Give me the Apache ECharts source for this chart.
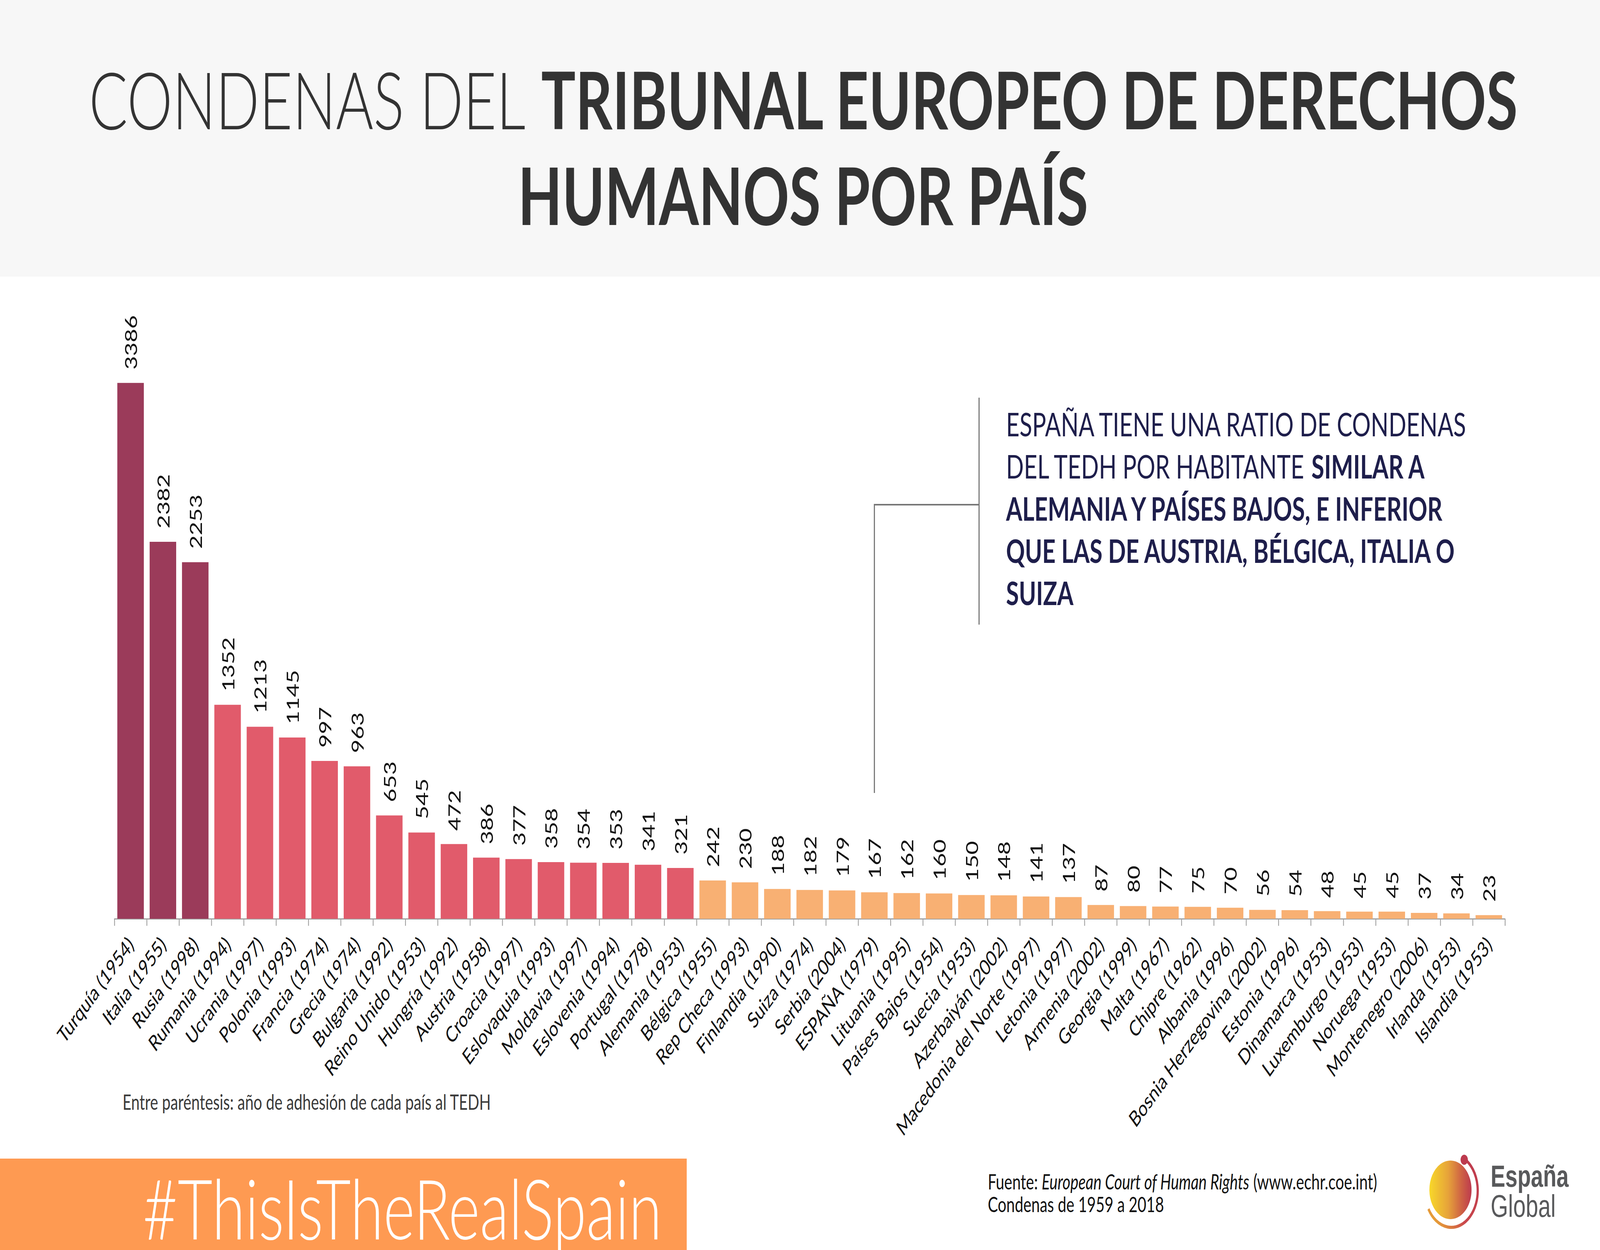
<!DOCTYPE html>
<html>
<head>
<meta charset="utf-8">
<script src="https://cdn.jsdelivr.net/npm/echarts@6/dist/echarts.min.js"></script>
<style>
html,body{margin:0;padding:0;background:#ffffff;overflow:hidden;}
#chart{width:5692px;height:3200px;transform-origin:0 0;}
</style>
</head>
<body>
<div id="chart"></div>
<script>
const categories = [
  'Turquía (1954)','Italia (1955)','Rusia (1998)','Rumania (1994)','Ucrania (1997)',
  'Polonia (1993)','Francia (1974)','Grecia (1974)','Bulgaria (1992)','Reino Unido (1953)',
  'Hungría (1992)','Austria (1958)','Croacia (1997)','Eslovaquia (1993)','Moldavia (1997)',
  'Eslovenia (1994)','Portugal (1978)','Alemania (1953)','Bélgica (1955)','Rep Checa (1993)',
  'Finlandia (1990)','Suiza (1974)','Serbia (2004)','ESPAÑA (1979)','Lituania (1995)',
  'Países Bajos (1954)','Suecia (1953)','Azerbaiyán (2002)','Macedonia del Norte (1997)','Letonia (1997)',
  'Armenia (2002)','Georgia (1999)','Malta (1967)','Chipre (1962)','Albania (1996)',
  'Bosnia Herzegovina (2002)','Estonia (1996)','Dinamarca (1953)','Luxemburgo (1953)','Noruega (1953)',
  'Montenegro (2006)','Irlanda (1953)','Islandia (1953)'
];
const condenas = [
  3386, 2382, 2253, 1352, 1213,
  1145, 997, 963, 653, 545,
  472, 386, 377, 358, 354,
  353, 341, 321, 242, 230,
  188, 182, 179, 167, 162,
  160, 150, 148, 141, 137,
  87, 80, 77, 75, 70,
  56, 54, 48, 45, 45,
  37, 34, 23
];
const highlightCategory = 'ESPAÑA (1979)';

const titleLine1 = ['CONDENAS DEL ', 'TRIBUNAL EUROPEO DE DERECHOS'];
const titleLine2 = 'HUMANOS POR PAÍS';
const noteText = 'Entre paréntesis: año de adhesión de cada país al TEDH';
const hashtag = '#ThisIsTheRealSpain';

const COL_TOP = '#9b3b5a', COL_MID = '#e15b6b', COL_LOW = '#f8b073';
function barColor(v){ return v >= 2000 ? COL_TOP : (v >= 300 ? COL_MID : COL_LOW); }

// the page is designed at 5692x3200 and fitted to the actual viewport
const el = document.getElementById('chart');
el.style.transform = 'scale(' + (window.innerWidth / 5692) + ',' + (window.innerHeight / 3200) + ')';

const chart = echarts.init(el, null, { renderer: 'svg', width: 5692, height: 3200 });

const FONT = 'Lato';
const NAVY = '#1e1e4b';

function buildGraphic(px) {
  return [
    { type: 'rect', id: 'hdr', left: 0, top: 0, z: -10, shape: { width: 5692, height: 708 }, style: { fill: '#f7f7f7' }, silent: true },
    {
      type: 'text', id: 't1', x: 2858, y: 252, z: 10,
      style: {
        text: '{l|' + titleLine1[0] + '}{b|' + titleLine1[1] + '}',
        align: 'center', verticalAlign: 'middle',
        rich: {
          l: { fontFamily: FONT, fontWeight: 300, fontSize: 204, fill: '#333333' },
          b: { fontFamily: FONT, fontWeight: 'bold', fontSize: 204, fill: '#333333' }
        }
      }
    },
    {
      type: 'text', id: 't2', x: 2857, y: 497, z: 10,
      style: { text: titleLine2, align: 'center', verticalAlign: 'middle',
        fontFamily: FONT, fontWeight: 'bold', fontSize: 204, fill: '#333333' }
    },
    {
      type: 'text', id: 'ann', x: 3579, y: 1031, z: 10,
      style: {
        text: '{r|ESPAÑA TIENE UNA RATIO DE CONDENAS}\n{r|DEL TEDH POR HABITANTE }{b|SIMILAR A}\n{b|ALEMANIA Y PAÍSES BAJOS, E INFERIOR}\n{b|QUE LAS DE AUSTRIA, BÉLGICA, ITALIA O}\n{b|SUIZA}',
        align: 'left', verticalAlign: 'top',
        rich: {
          r: { fontFamily: FONT, fontWeight: 'normal', fontSize: 83, lineHeight: 108, fill: NAVY },
          b: { fontFamily: FONT, fontWeight: 'bold', fontSize: 83, lineHeight: 108, fill: NAVY }
        }
      }
    },
    { type: 'line', id: 'l1', z: 5, shape: { x1: 3483, y1: 1018, x2: 3483, y2: 1599 }, style: { stroke: '#777777', lineWidth: 4 } },
    { type: 'line', id: 'l2', z: 5, shape: { x1: 3483, y1: 1292, x2: px, y2: 1292 }, style: { stroke: '#777777', lineWidth: 4 } },
    { type: 'line', id: 'l3', z: 5, shape: { x1: px, y1: 1290, x2: px, y2: 2030 }, style: { stroke: '#777777', lineWidth: 4 } },
    {
      type: 'text', id: 'note', x: 436, y: 2820, z: 10,
      style: { text: noteText, align: 'left', verticalAlign: 'middle', fontFamily: FONT, fontSize: 54, fill: '#3a3a3a' }
    },
    { type: 'rect', id: 'band', left: 0, top: 2966, z: 1, shape: { width: 2443, height: 240 }, style: { fill: '#fe9a52' } },
    {
      type: 'text', id: 'hash', x: 508, y: 3090, z: 10,
      style: { text: hashtag, align: 'left', verticalAlign: 'middle', fontFamily: FONT, fontWeight: 300, fontSize: 214, lineHeight: 180, fill: '#ffffff' }
    },
    {
      type: 'text', id: 'src', x: 3514, y: 2995, z: 10,
      style: {
        text: '{r|Fuente: }{i|European Court of Human Rights}{r| (www.echr.coe.int)}\n{r|Condenas de 1959 a 2018}',
        align: 'left', verticalAlign: 'top',
        rich: {
          r: { fontFamily: FONT, fontSize: 54, lineHeight: 58, fill: '#111111' },
          i: { fontFamily: FONT, fontStyle: 'italic', fontSize: 54, lineHeight: 58, fill: '#111111' }
        }
      }
    },
    {
      type: 'circle', id: 'globe', z: 10, shape: { cx: 5160, cy: 3046, r: 75 },
      style: { fill: new echarts.graphic.LinearGradient(0, 0, 1, 0, [
        { offset: 0, color: '#f8d82a' }, { offset: 0.45, color: '#e6a23a' },
        { offset: 0.75, color: '#cf6444' }, { offset: 1, color: '#bd3a4e' }]) }
    },
    {
      type: 'arc', id: 'ring', z: 10,
      shape: { cx: 5163, cy: 3048, r: 94, startAngle: -60 * Math.PI / 180, endAngle: 150 * Math.PI / 180, clockwise: true },
      style: { fill: 'none', lineWidth: 8, stroke: new echarts.graphic.LinearGradient(1, 0, 0, 1, [
        { offset: 0, color: '#bd3a4e' }, { offset: 0.6, color: '#c9474c' }, { offset: 1, color: '#f2c030' }]) }
    },
    { type: 'circle', id: 'dot', z: 11, shape: { cx: 5209, cy: 2969, r: 13 }, style: { fill: '#bd3a4e' } },
    {
      type: 'text', id: 'lg1', x: 5303, y: 3010, z: 10,
      style: { text: 'España', align: 'left', verticalAlign: 'middle', fontFamily: 'Liberation Sans', fontWeight: 'bold', fontSize: 78, lineHeight: 72, fill: '#58595b' }
    },
    {
      type: 'text', id: 'lg2', x: 5303, y: 3087, z: 10,
      style: { text: 'Global', align: 'left', verticalAlign: 'middle', fontFamily: 'Liberation Sans', fontSize: 80, lineHeight: 72, fill: '#58595b' }
    }
  ];
}

const option = {
  backgroundColor: '#ffffff',
  animation: false,
  grid: { left: 407, right: 338, top: 934, bottom: 848, containLabel: false },
  xAxis: {
    type: 'category',
    data: categories,
    boundaryGap: true,
    axisLine: { show: true, lineStyle: { color: '#a0a0a0', width: 3 } },
    axisTick: { show: true, alignWithLabel: false, length: 18, lineStyle: { color: '#a0a0a0', width: 3 } },
    axisLabel: {
      interval: 0, rotate: 45, margin: 55,
      fontFamily: FONT, fontSize: 56, color: '#111111'
    }
  },
  yAxis: { type: 'value', min: 0, max: 3500, show: false, splitLine: { show: false } },
  series: [{
    type: 'bar',
    data: condenas,
    barCategoryGap: '18%',
    itemStyle: { color: function (p) { return barColor(p.value); } },
    label: {
      show: true, position: 'top', rotate: 90, align: 'left', verticalAlign: 'middle',
      distance: 34, fontFamily: FONT, fontSize: 60, color: '#111111'
    }
  }],
  graphic: buildGraphic(3108)
};

chart.setOption(option);
// place the pointer line on the ESPAÑA bar through the axis scale
const px = chart.convertToPixel({ xAxisIndex: 0 }, highlightCategory);
chart.setOption({ graphic: buildGraphic(px) });
</script>
</body>
</html>
